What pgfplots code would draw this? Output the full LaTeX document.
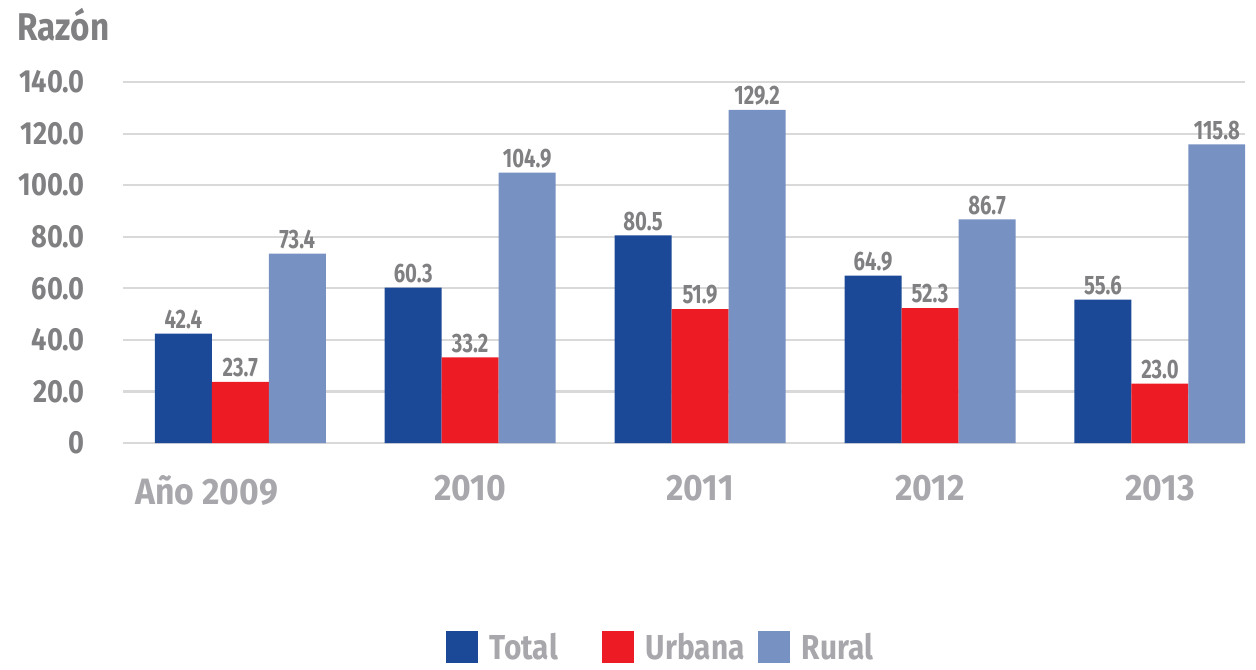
\documentclass[border=0pt]{standalone}
\usepackage{pgfplots}
\pgfplotsset{compat=1.18}
\usepackage{fontspec}
\setmainfont{Fira Sans}[FakeStretch=0.86]
\newfontfamily\yfont{Fira Sans}[FakeStretch=0.85]
\newfontfamily\dfont{Fira Sans}[FakeStretch=0.76]
\newfontfamily\xfont{Fira Sans}[FakeStretch=0.92]
\definecolor{cTotal}{RGB}{27,72,151}
\definecolor{cUrb}{RGB}{237,28,36}
\definecolor{cRur}{RGB}{118,145,194}
\definecolor{tgray}{RGB}{128,128,131}
\definecolor{xgray}{RGB}{168,168,172}
\definecolor{gridc}{RGB}{217,217,217}
\pgfplotstableread{
x total urbana rural
0 42.4 23.7 73.4
1 60.3 33.2 104.9
2 80.5 51.9 129.2
3 64.9 52.3 86.7
4 55.6 23.0 115.8
}\datatab
\begin{document}
\begin{tikzpicture}[x=1pt,y=1pt]
\useasboundingbox (-92.25,-169.5) rectangle (849.75,332.25);
\begin{axis}[
  at={(0,0)}, anchor=south west,
  scale only axis, width=841.5pt, height=270.75pt,
  ybar=0pt, bar width=42.75pt,
  xmin=-0.51, xmax=4.37, ymin=0, ymax=140,
  axis line style={draw=none},
  ymajorgrids, grid style={gridc, line width=1.6pt},
  ytick={0,20,40,60,80,100,120,140},
  yticklabels={0,20.0,40.0,60.0,80.0,100.0,120.0,140.0},
  xtick=data,
  xticklabels={\llap{Año }2009,2010,2011,2012,2013},
  major tick length=0pt,
  yticklabel style={font=\yfont\fontsize{24}{28}\selectfont\bfseries, text=tgray, anchor=east, inner sep=0pt, xshift=-28.5pt},
  xticklabel style={font=\xfont\fontsize{27.5}{32}\selectfont\bfseries, text=xgray, anchor=north, inner sep=0pt, yshift=-24pt},
  /pgf/number format/assume math mode=true,
  nodes near coords,
  nodes near coords style={font=\dfont\fontsize{20}{24}\selectfont\bfseries, text=tgray, /pgf/number format/.cd, fixed, fixed zerofill, precision=1, assume math mode=true},
  legend columns=3,
  legend image code/.code={\fill[#1] (0pt,-12pt) rectangle (24pt,12pt);},
  legend style={draw=none, at={(0.4964,-0.565)}, anchor=center, inner sep=0pt,
    font=\fontsize{26}{30}\selectfont\bfseries, text=xgray,
    nodes={inner sep=0pt},
    /tikz/every odd column/.append style={column sep=9pt}},
]
\addplot[fill=cTotal, draw=none] table[x=x, y=total] {\datatab};
\addplot[fill=cUrb, draw=none] table[x=x, y=urbana] {\datatab};
\addplot[fill=cRur, draw=none] table[x=x, y=rural] {\datatab};
\legend{\makebox[84pt][l]{Total},\makebox[84pt][l]{Urbana},\makebox[84pt][l]{Rural}}
\end{axis}
\node[anchor=base west, inner sep=0pt, text=tgray, font=\fontsize{29}{34}\selectfont\bfseries] at (-79.5,302.25) {Razón};
\end{tikzpicture}
\end{document}
